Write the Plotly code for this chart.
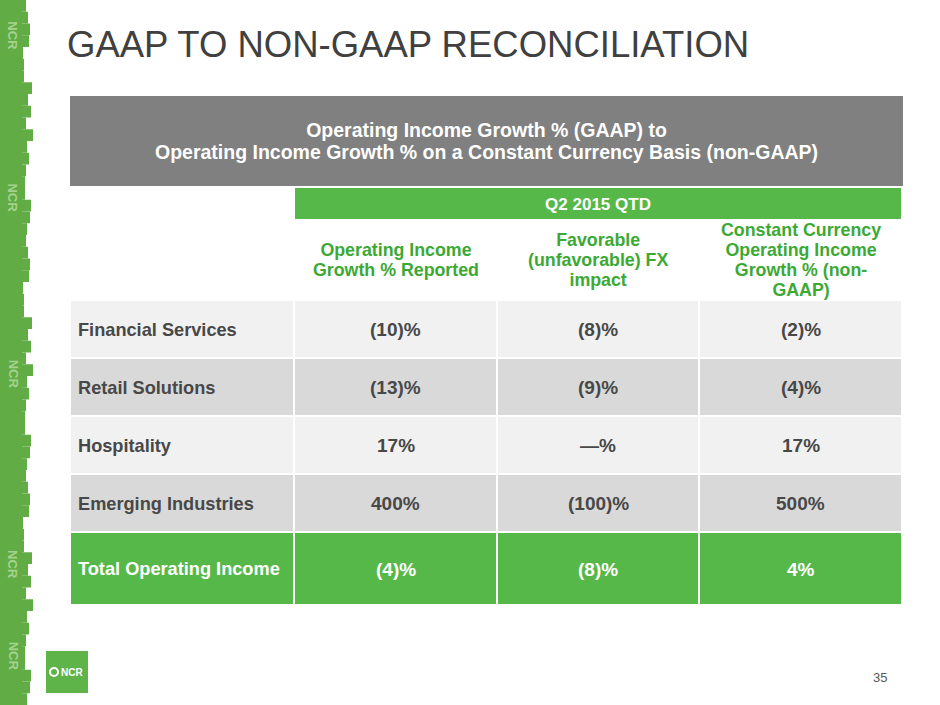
import plotly.graph_objects as go

W, H = 940, 705

# table content
segments = ["Financial Services", "Retail Solutions", "Hospitality", "Emerging Industries"]
reported = ["(10)%", "(13)%", "17%", "400%"]
fx_impact = ["(8)%", "(9)%", "—%", "(100)%"]
constant_currency = ["(2)%", "(4)%", "17%", "500%"]
total_row = ["Total Operating Income", "(4)%", "(8)%", "4%"]
period = "Q2 2015 QTD"
column_headers = [
    "",
    "Operating Income<br>Growth % Reported",
    "Favorable<br>(unfavorable) FX<br>impact",
    "Constant Currency<br>Operating Income<br>Growth % (non-<br>GAAP)",
]
box_title = ("Operating Income Growth % (GAAP) to<br>"
             "Operating Income Growth % on a Constant Currency Basis (non-GAAP)")
slide_title = "GAAP TO NON-GAAP RECONCILIATION"
page_number = "35"

FONT = "Liberation Sans, Arial, sans-serif"
GREEN = "#56b848"
HEAD_GREEN = "#3ba934"
GRAY = "#808080"
TEXT = "#484848"
LIGHT = "#f1f1f1"
DARK = "#d9d9d9"

# geometry (pixels)
X0, X1 = 70, 902
col_widths = [224, 203, 202, 203]
BOX = (96, 186)
BAND = (188, 219)
HEAD_H, ROW_H, TOTAL_H = 81, 58, 73
PAD = 6


def xdom(a, b):
    return [a / W, b / W]


def ydom(top, bottom):
    return [1 - bottom / H, 1 - top / H]


def lines(text, size):
    return "<br>".join(f"<span style='font-size:{size}px'><b>{s}</b></span>"
                       for s in text.split("<br>"))


def label(x, y, text, size, color, anchor="center", base=None):
    # base sets the line spacing of multi-line labels, the spans set the glyph size
    fig.add_annotation(x=x / W, y=1 - y / H, xref="paper", yref="paper", text=text,
                       showarrow=False, xanchor=anchor, yanchor="middle", align="center",
                       font=dict(family=FONT, size=base or size, color=color))


edges = [X0]
for w in col_widths:
    edges.append(edges[-1] + w)

fig = go.Figure()

# grey title box
fig.add_trace(go.Table(
    domain=dict(x=xdom(X0, X1), y=ydom(BOX[0], BOX[1] + 1)),
    columnwidth=[1],
    header=dict(values=[""], height=BOX[1] - BOX[0], fill_color=GRAY,
                line=dict(color=GRAY, width=1)),
    cells=dict(values=[[]]),
))
label((X0 + X1) / 2, 141, lines(box_title, 19.5), 19.5, "white", base=16.9)

# period band
fig.add_trace(go.Table(
    domain=dict(x=xdom(X0, X1), y=ydom(BAND[0] - 1, BAND[1] + 1)),
    columnwidth=[col_widths[0], sum(col_widths[1:])],
    header=dict(values=["", f"<b>{period}</b>"], height=BAND[1] - BAND[0],
                fill_color=["white", GREEN], line=dict(color="white", width=2),
                align="center", font=dict(family=FONT, size=17, color="white")),
    cells=dict(values=[[], []]),
))

# column header labels, centred line by line
head_mid = BAND[1] + HEAD_H / 2 + 0.5
for j, lab in enumerate(column_headers):
    if lab:
        label((edges[j] + edges[j + 1]) / 2, head_mid, lines(lab, 17.8), 17.8,
              HEAD_GREEN, base=15.5)

# body rows: one table strip per row for the fills, values written centred in each cell
body = [list(r) for r in zip(segments, reported, fx_impact, constant_currency)]
body.append(total_row)
top = BAND[1] + HEAD_H
for i, row in enumerate(body):
    is_total = i == len(body) - 1
    h = TOTAL_H if is_total else ROW_H
    color = "white" if is_total else TEXT
    fig.add_trace(go.Table(
        domain=dict(x=xdom(X0, X1), y=ydom(top, top + h + 2)),
        columnwidth=col_widths,
        header=dict(values=[""] * len(row), height=h,
                    fill_color=GREEN if is_total else (LIGHT if i % 2 == 0 else DARK),
                    line=dict(color="white", width=2)),
        cells=dict(values=[[] for _ in row]),
    ))
    mid = top + h / 2 + 0.5
    for j, v in enumerate(row):
        if j == 0:
            label(edges[0] + PAD, mid, f"<b>{v}</b>", 18.2, color, anchor="left")
        else:
            label((edges[j] + edges[j + 1]) / 2, mid, f"<b>{v}</b>", 19, color)
    top += h

# left brand stripe
fig.add_shape(type="rect", xref="paper", yref="paper", x0=0, x1=22 / W, y0=0, y1=1,
              fillcolor="#5ca83f", line_width=0, layer="below")
stripe_edge = [26, 29, 24, 31, 27, 25, 30, 28, 23, 32, 26, 29, 25, 27, 30, 24, 28, 33, 26, 31]
n = 60
for i in range(n):
    w = stripe_edge[(i * 7) % len(stripe_edge)]
    fig.add_shape(type="rect", xref="paper", yref="paper", x0=0, x1=w / W,
                  y0=1 - (i + 1) / n, y1=1 - i / n,
                  fillcolor="#62ac46", line_width=0, layer="below")
for yy in [0.95, 0.72, 0.47, 0.2, 0.07]:
    fig.add_annotation(x=13 / W, y=yy, xref="paper", yref="paper", text="<b>NCR</b>",
                       textangle=90, showarrow=False, xanchor="center", yanchor="middle",
                       font=dict(family=FONT, size=13, color="#a5d38e"))

# logo
fig.add_shape(type="rect", xref="paper", yref="paper", x0=46 / W, x1=88 / W,
              y0=1 - 693 / H, y1=1 - 651 / H, fillcolor="#5fb449", line_width=0)
fig.add_shape(type="circle", xref="paper", yref="paper", x0=50 / W, x1=58 / W,
              y0=1 - 676 / H, y1=1 - 668 / H, line=dict(color="white", width=2))
label(72, 672, "<b>NCR</b>", 10, "white")

fig.add_annotation(x=65 / W, y=1 - 45 / H, xref="paper", yref="paper", text=slide_title,
                   xanchor="left", yanchor="middle", showarrow=False,
                   font=dict(family=FONT, size=36.5, color="#404040"))
fig.add_annotation(x=880 / W, y=1 - 677 / H, xref="paper", yref="paper", text=page_number,
                   xanchor="center", yanchor="middle", showarrow=False,
                   font=dict(family=FONT, size=13, color="#595959"))

fig.update_layout(width=W, height=H, margin=dict(l=0, r=0, t=0, b=0),
                  paper_bgcolor="white", plot_bgcolor="white", showlegend=False)

fig.write_html("out.html", config={"displayModeBar": False},
               post_script="document.body.style.margin='0';")
